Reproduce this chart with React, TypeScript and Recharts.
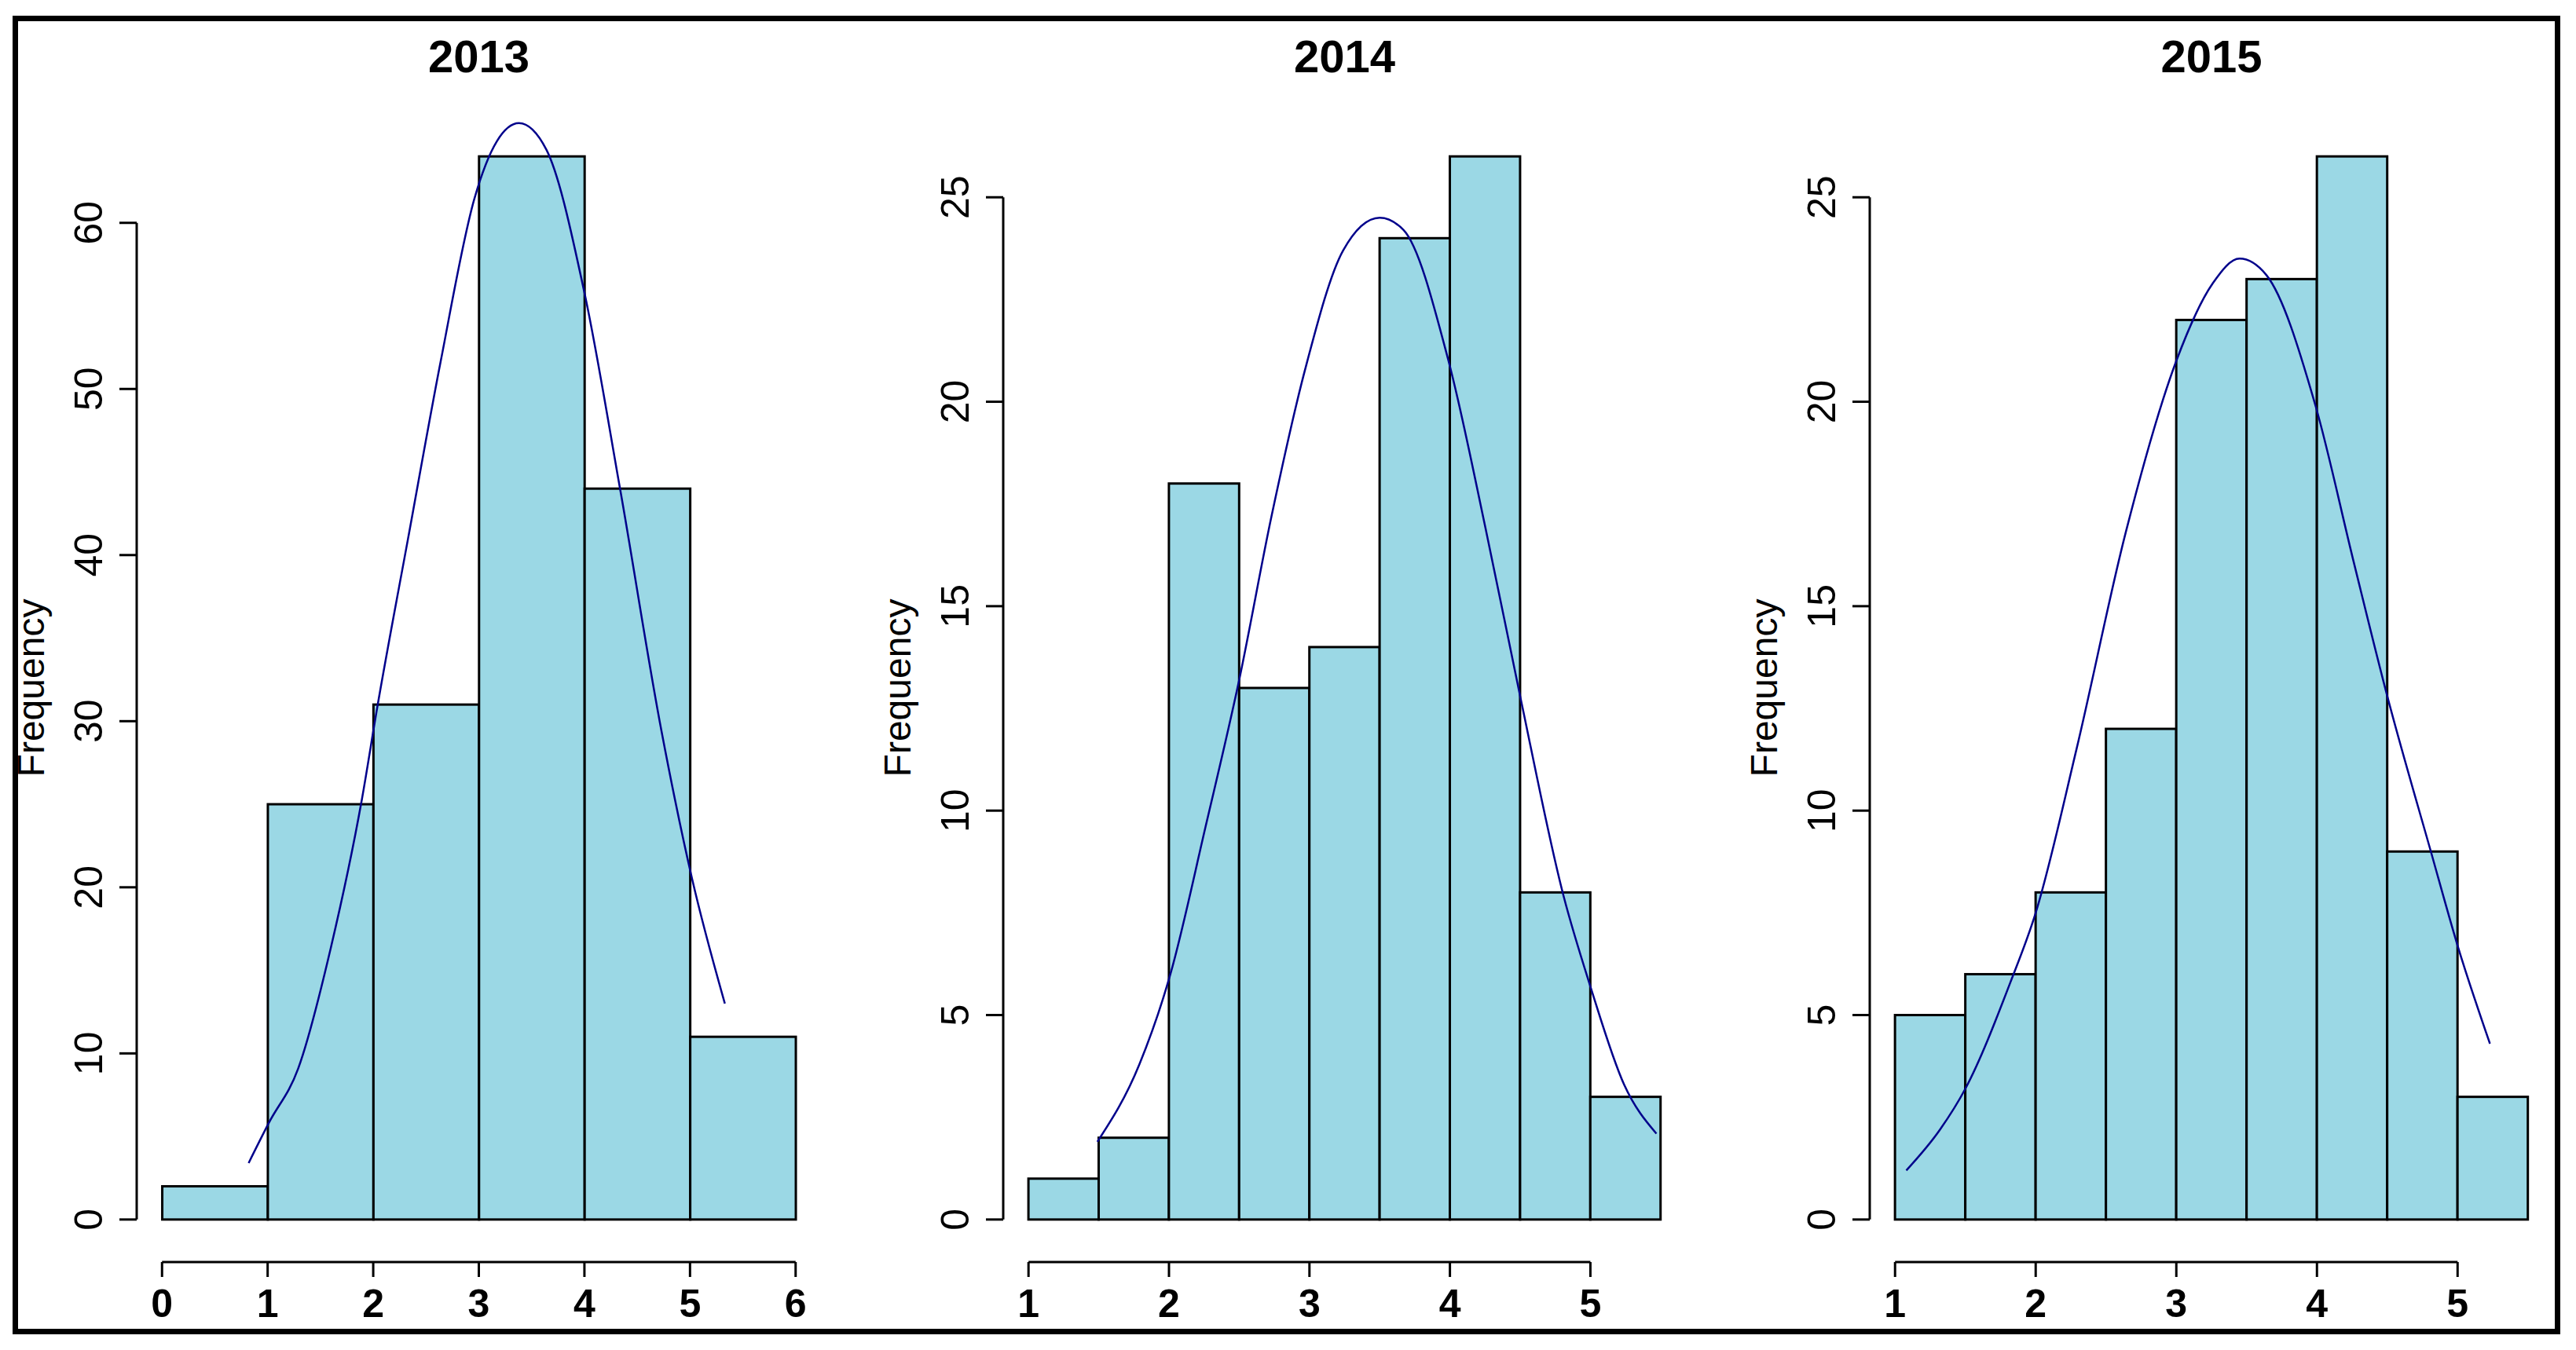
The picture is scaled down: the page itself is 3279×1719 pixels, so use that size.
import React from "react";
import { ComposedChart, Bar, Line, XAxis, YAxis, ReferenceLine } from "recharts";

// bin edges and counts
const bins2013 = [0, 1, 2, 3, 4, 5, 6];
const counts2013 = [2, 25, 31, 64, 44, 11];
const bins2014 = [1, 1.5, 2, 2.5, 3, 3.5, 4, 4.5, 5, 5.5];
const counts2014 = [1, 2, 18, 13, 14, 24, 26, 8, 3];
const bins2015 = [1, 1.5, 2, 2.5, 3, 3.5, 4, 4.5, 5, 5.5];
const counts2015 = [5, 6, 8, 12, 22, 23, 26, 9, 3];

// blue density curve, traced point by point (x, frequency)
const curveX2013 = [0.82, 1.01, 1.29, 1.6, 1.89, 2.04, 2.33, 2.64, 2.96, 3.17, 3.38, 3.64, 4.0, 4.34, 4.73, 5.02, 5.33];
const curveY2013 = [3.4, 5.8, 9.1, 16.4, 25.2, 30.9, 41.0, 51.7, 61.5, 64.9, 66.0, 64.4, 55.8, 43.9, 29.4, 20.5, 13.0];
const curveX2014 = [1.49, 1.79, 2.01, 2.26, 2.5, 2.73, 2.97, 3.24, 3.5, 3.67, 3.99, 4.26, 4.5, 4.81, 5.0, 5.24, 5.47];
const curveY2014 = [1.9, 3.8, 6.0, 9.6, 13.2, 17.2, 20.8, 23.7, 24.5, 24.2, 21.0, 16.8, 12.8, 7.9, 5.7, 3.3, 2.1];
const curveX2015 = [1.08, 1.32, 1.5, 1.82, 2.0, 2.29, 2.64, 3.0, 3.26, 3.45, 3.64, 3.99, 4.26, 4.5, 4.81, 5.0, 5.23];
const curveY2015 = [1.2, 2.2, 3.2, 5.8, 7.5, 11.5, 16.8, 21.0, 22.9, 23.5, 23.1, 19.9, 16.1, 12.8, 9.0, 6.7, 4.3];

const xTicks2013 = [0, 1, 2, 3, 4, 5, 6];
const yTicks2013 = [0, 10, 20, 30, 40, 50, 60];
const xTicks2014 = [1, 2, 3, 4, 5];
const yTicks2014 = [0, 5, 10, 15, 20, 25];
const xTicks2015 = [1, 2, 3, 4, 5];
const yTicks2015 = [0, 5, 10, 15, 20, 25];

const W = 3279;
const H = 1719;
const PLOT_TOP = 145;
const PLOT_BOTTOM = 1607;
const Y_AXIS_W = 174;
const FONT = '"Liberation Sans", Arial, sans-serif';
const FILL = "#9BD8E5";
const CURVE = "#00008B";

const Panel = ({ title, bins, counts, curveX, curveY, xTicks, yTicks, plotLeft, plotRight }: any) => {
  const xLo = bins[0];
  const xHi = bins[bins.length - 1];
  const xPad = (xHi - xLo) * 0.04;
  const yMax = Math.max(...counts);
  const yPad = yMax * 0.04;
  const xDomain = [xLo - xPad, xHi + xPad];
  const yDomain = [-yPad, yMax + yPad];
  const plotW = plotRight - plotLeft;
  const pxPerUnit = plotW / (xDomain[1] - xDomain[0]);

  const binData = counts.map((c: number, i: number) => ({
    x: (bins[i] + bins[i + 1]) / 2,
    count: c,
    w: bins[i + 1] - bins[i],
  }));
  const curveData = curveX.map((x: number, i: number) => ({ x, dens: curveY[i] }));

  const chartLeft = plotLeft - Y_AXIS_W;
  const chartW = Y_AXIS_W + plotW + 10;

  // histogram bar drawn across its full bin width
  const renderBar = (props: any) => {
    const { x, y, width, height, index } = props;
    const cx = x + width / 2;
    const w = (props.payload?.w ?? binData[index].w) * pxPerUnit;
    return (
      <rect x={cx - w / 2} y={y} width={w} height={height} fill={FILL} stroke="#000" strokeWidth={3} />
    );
  };

  const renderYTick = (props: any) => {
    const { x, y, payload } = props;
    const bx = x - 22;
    return (
      <text
        x={bx}
        y={y}
        transform={`rotate(-90, ${bx}, ${y})`}
        textAnchor="middle"
        fontFamily={FONT}
        fontSize={50}
        fill="#000"
      >
        {payload.value}
      </text>
    );
  };

  const renderXTick = (props: any) => {
    const { x, y, payload } = props;
    return (
      <text x={x} y={y + 51} textAnchor="middle" fontFamily={FONT} fontSize={50} fontWeight="bold" fill="#000">
        {payload.value}
      </text>
    );
  };

  return (
    <>
      <div style={{ position: "absolute", left: chartLeft, top: 0 }}>
        <ComposedChart
          width={chartW}
          height={H}
          data={binData}
          margin={{ top: PLOT_TOP, right: 10, bottom: 0, left: 0 }}
        >
          <XAxis
            dataKey="x"
            type="number"
            domain={xDomain}
            allowDataOverflow
            ticks={xTicks}
            interval={0}
            height={H - PLOT_BOTTOM}
            axisLine={false}
            tickLine={{ stroke: "#000", strokeWidth: 3 }}
            tickSize={19}
            tickMargin={0}
            tick={renderXTick}
          />
          <YAxis
            type="number"
            domain={yDomain}
            allowDataOverflow
            ticks={yTicks}
            interval={0}
            width={Y_AXIS_W}
            axisLine={false}
            tickLine={{ stroke: "#000", strokeWidth: 3 }}
            tickSize={22}
            tickMargin={0}
            tick={renderYTick}
          />
          <ReferenceLine
            segment={[{ x: xDomain[0], y: 0 }, { x: xDomain[0], y: yTicks[yTicks.length - 1] }]}
            stroke="#000"
            strokeWidth={3}
            ifOverflow="visible"
          />
          <ReferenceLine
            segment={[{ x: xTicks[0], y: yDomain[0] }, { x: xTicks[xTicks.length - 1], y: yDomain[0] }]}
            stroke="#000"
            strokeWidth={3}
            ifOverflow="visible"
          />
          <Bar dataKey="count" barSize={10} shape={renderBar} isAnimationActive={false} />
          <Line
            data={curveData}
            dataKey="dens"
            type="monotone"
            stroke={CURVE}
            strokeWidth={2.5}
            dot={false}
            activeDot={false}
            isAnimationActive={false}
          />
        </ComposedChart>
      </div>
      <div
        style={{
          position: "absolute",
          left: plotLeft,
          width: plotW,
          top: 43,
          textAlign: "center",
          fontFamily: FONT,
          fontSize: 58,
          lineHeight: "58px",
          fontWeight: "bold",
        }}
      >
        {title}
      </div>
      <div
        style={{
          position: "absolute",
          left: plotLeft - 134 - 200,
          top: (PLOT_TOP + PLOT_BOTTOM) / 2 - 24,
          width: 400,
          height: 48,
          textAlign: "center",
          fontFamily: FONT,
          fontSize: 48,
          lineHeight: "48px",
          transform: "rotate(-90deg)",
        }}
      >
        Frequency
      </div>
    </>
  );
};

export default function App() {
  return (
    <div style={{ position: "absolute", left: 0, top: 0, width: W, height: H, background: "#fff", overflow: "hidden" }}>
      <Panel
        title="2013"
        bins={bins2013}
        counts={counts2013}
        curveX={curveX2013}
        curveY={curveY2013}
        xTicks={xTicks2013}
        yTicks={yTicks2013}
        plotLeft={174}
        plotRight={1045}
      />
      <Panel
        title="2014"
        bins={bins2014}
        counts={counts2014}
        curveX={curveX2014}
        curveY={curveY2014}
        xTicks={xTicks2014}
        yTicks={yTicks2014}
        plotLeft={1277}
        plotRight={2146}
      />
      <Panel
        title="2015"
        bins={bins2015}
        counts={counts2015}
        curveX={curveX2015}
        curveY={curveY2015}
        xTicks={xTicks2015}
        yTicks={yTicks2015}
        plotLeft={2380}
        plotRight={3250}
      />
      <div
        style={{
          position: "absolute",
          left: 16,
          top: 20,
          width: 3243,
          height: 1679,
          border: "7px solid #000",
          boxSizing: "border-box",
          pointerEvents: "none",
        }}
      />
    </div>
  );
}
